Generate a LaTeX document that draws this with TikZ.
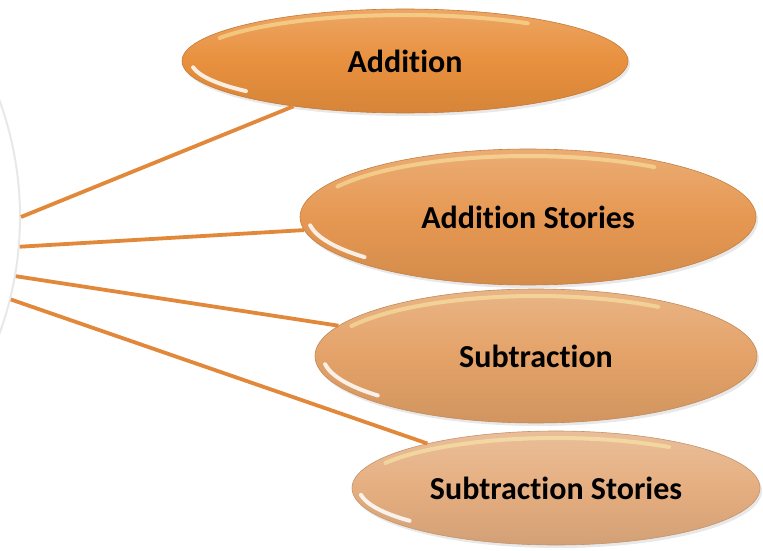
\documentclass[tikz,border=0pt]{standalone}
\usepackage{fontspec}
\setmainfont[Ligatures=NoCommon]{Carlito}
\usetikzlibrary{shapes.geometric,shadows}
\definecolor{O1}{RGB}{232,144,62}
\definecolor{O2}{RGB}{230,152,82}
\definecolor{O3}{RGB}{228,162,104}
\definecolor{O4}{RGB}{229,174,128}
\definecolor{L}{RGB}{226,136,58}

\tikzset{
  bubble/.style={ellipse, inner sep=0pt, draw=#1!85!black, line width=0.6pt,
    top color=#1!80!white, bottom color=#1!92!black, middle color=#1,
    drop shadow={opacity=0.18, shadow xshift=2pt, shadow yshift=-3pt},
    font=\fontsize{32}{37}\selectfont\bfseries},
  link/.style={L, line width=3.8pt},
  shine/.style={white, line width=4pt, line cap=round, opacity=0.85},
  glow/.style={yellow!30!white, line width=4pt, line cap=round, opacity=0.45}
}

\begin{document}
\begin{tikzpicture}[x=1pt,y=1pt]
    \useasboundingbox (0,0) rectangle (763,550);
    \clip (0,0) rectangle (763,550);

    %circulo central (solo se ve el borde)
    \node[circle, minimum size=680pt, inner sep=0pt, fill=white,
      draw=gray!18, line width=2pt] (hub) at (-320,333) {};

    %las cuatro burbujas
    \node[bubble=O1, minimum width=446pt, minimum height=104pt] (add) at (405,489) {Addition};
    \node[bubble=O2, minimum width=456pt, minimum height=136pt] (addst) at (528,333) {Addition Stories};
    \node[bubble=O3, minimum width=442pt, minimum height=134pt] (sub) at (536,194) {Subtraction};
    \node[bubble=O4, minimum width=408pt, minimum height=114pt] (subst) at (556,62) {Subtraction Stories};

    %brillos
    \draw[glow] (add.center) ++(55:214pt and 46pt) arc[start angle=55, end angle=150, x radius=214pt, y radius=46pt];
    \draw[shine] (add.center) ++(188:214pt and 45pt) arc[start angle=188, end angle=222, x radius=214pt, y radius=45pt];
    \draw[glow] (addst.center) ++(55:220pt and 61pt) arc[start angle=55, end angle=150, x radius=220pt, y radius=61pt];
    \draw[shine] (addst.center) ++(188:220pt and 60pt) arc[start angle=188, end angle=222, x radius=220pt, y radius=60pt];
    \draw[glow] (sub.center) ++(55:213pt and 60pt) arc[start angle=55, end angle=150, x radius=213pt, y radius=60pt];
    \draw[shine] (sub.center) ++(188:213pt and 59pt) arc[start angle=188, end angle=222, x radius=213pt, y radius=59pt];
    \draw[glow] (subst.center) ++(55:197pt and 50pt) arc[start angle=55, end angle=150, x radius=197pt, y radius=50pt];
    \draw[shine] (subst.center) ++(188:197pt and 49pt) arc[start angle=188, end angle=222, x radius=197pt, y radius=49pt];

    %lineas
    \draw[link] (hub.0.8) -- (add);
    \draw[link] (hub.-5.9) -- (addst);
    \draw[link] (hub.-10.7) -- (sub);
    \draw[link] (hub.-14.1) -- (subst);
\end{tikzpicture}
\end{document}
